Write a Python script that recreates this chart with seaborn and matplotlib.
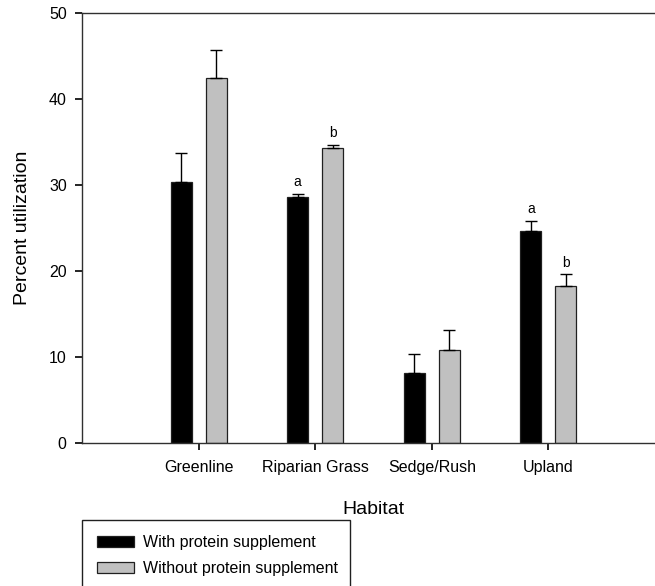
import pandas as pd
import matplotlib
matplotlib.use("Agg")
import matplotlib.pyplot as plt
import seaborn as sns

habitats = ["Greenline", "Riparian Grass", "Sedge/Rush", "Upland"]
groups = ["With protein supplement", "Without protein supplement"]
with_mean = [30.4, 28.6, 8.1, 24.6]
with_se = [3.3, 0.4, 2.25, 1.25]
without_mean = [42.4, 34.3, 10.8, 18.3]
without_se = [3.3, 0.35, 2.3, 1.3]
with_letters = ["", "a", "", "a"]
without_letters = ["", "b", "", "b"]


def main():
    df = pd.DataFrame({
        "Habitat": habitats * 2,
        "Group": [groups[0]] * 4 + [groups[1]] * 4,
        "Percent": with_mean + without_mean,
        "SE": with_se + without_se,
        "Letter": with_letters + without_letters,
    })

    sns.set_style("ticks")
    plt.rcParams["font.family"] = ["Liberation Sans", "DejaVu Sans"]
    plt.rcParams["text.color"] = "black"
    plt.rcParams["axes.labelcolor"] = "black"
    for a in ["xtick", "ytick"]:
        plt.rcParams[f"{a}.major.size"] = 5
        plt.rcParams[f"{a}.major.width"] = 1.2
        plt.rcParams[f"{a}.color"] = "black"
        plt.rcParams[f"{a}.labelcolor"] = "black"
        plt.rcParams[f"{a}.labelsize"] = 11.5
        plt.rcParams[f"{a}.direction"] = "out"
    plt.rcParams["xtick.bottom"] = True
    plt.rcParams["ytick.left"] = True
    plt.rcParams["xtick.major.pad"] = 7
    plt.rcParams["ytick.major.pad"] = 6

    fig = plt.figure(figsize=(6.55, 5.86), dpi=100)
    # axes runs slightly past the right edge, like the cropped original
    ax = fig.add_axes([82 / 655, 143 / 586, 583 / 655, 430 / 586])

    sns.barplot(
        data=df, x="Habitat", y="Percent", hue="Group",
        order=habitats, hue_order=groups,
        palette={groups[0]: "black", groups[1]: "#c0c0c0"},
        width=0.6, gap=0.4, errorbar=None, ax=ax,
        edgecolor="#202020", linewidth=0.9, saturation=1,
    )

    # one-sided SE bars and significance letters, placed on the drawn bars
    bars = [p for p in ax.patches if p.get_height() > 0]
    for p, (_, row) in zip(bars, df.iterrows()):
        xc = p.get_x() + p.get_width() / 2
        ax.errorbar(xc, row["Percent"], yerr=[[0], [row["SE"]]], fmt="none",
                    ecolor="black", elinewidth=1, capsize=4.2, capthick=1)
        if row["Letter"]:
            ax.annotate(row["Letter"], (xc, row["Percent"] + row["SE"]),
                        xytext=(0, 8.3), textcoords="offset points",
                        ha="center", va="center", fontsize=10)

    ax.set_xlim(-1, 4)
    ax.set_ylim(0, 50)
    ax.set_yticks(range(0, 51, 10))
    ax.set_xlabel("Habitat", fontsize=14, labelpad=19)
    ax.set_ylabel("Percent utilization", fontsize=14, labelpad=13)
    ax.tick_params(axis="both", which="major", length=5, width=1.2,
                   color="black", bottom=True, left=True)

    for side in ["left", "top", "bottom"]:
        ax.spines[side].set_color("#303030")
        ax.spines[side].set_linewidth(1)
    ax.spines["right"].set_visible(False)

    handles, labels = ax.get_legend_handles_labels()
    ax.get_legend().remove()
    leg = fig.legend(
        handles, labels, loc="upper left",
        bbox_to_anchor=(82 / 655, 1 / 586, 268 / 655, 65 / 586),
        mode="expand", borderaxespad=0, fontsize=11.5,
        handlelength=2.3, handleheight=0.7, handletextpad=0.6,
        labelspacing=0.7, borderpad=0.95, fancybox=False,
        framealpha=1, edgecolor="#202020",
    )
    leg.get_frame().set_linewidth(1)

    fig.savefig("out.png", dpi=100)
    plt.close(fig)


if __name__ == "__main__":
    main()
